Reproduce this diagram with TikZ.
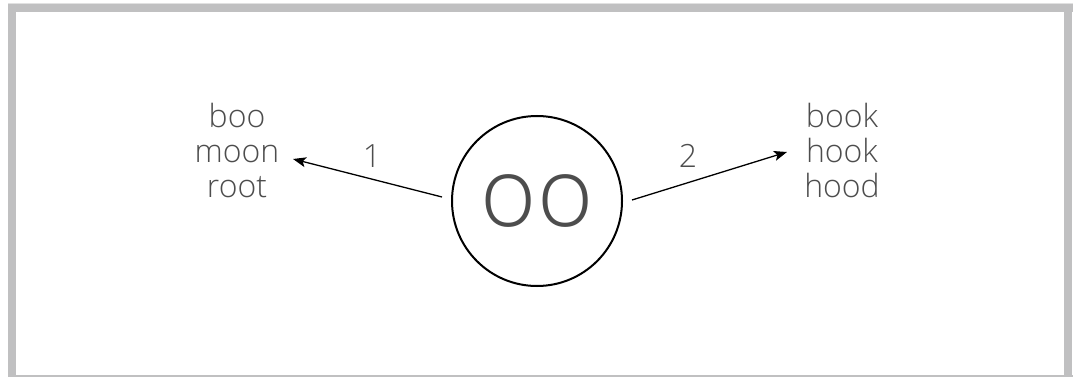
\documentclass[tikz,border=0pt]{standalone}
\usepackage{fontspec}
\setmainfont{Open Sans}[UprightFont=* Light]
\usetikzlibrary{arrows.meta}
\definecolor{framegray}{RGB}{192,192,193}
\definecolor{lightgray}{RGB}{225,225,225}
\definecolor{txt}{RGB}{77,77,77}
\begin{document}
\begin{tikzpicture}[x=1pt,y=-1pt,
  words/.style={text=txt,align=center,inner sep=0pt,font=\fontsize{32}{35}\selectfont},
  lbl/.style={text=txt,inner sep=0pt,font=\fontsize{32}{35}\selectfont},
  arr/.style={draw=black,line width=1.3pt,-{Stealth[length=13pt,width=10pt,inset=3pt]}},
  ring/.style={circle,draw=black,line width=2pt,minimum size=170pt,inner sep=0pt,text=txt,font=\fontsize{96}{100}\selectfont}]
\useasboundingbox (0,0) rectangle (1073,377);
\fill[white] (0,0) rectangle (1073,377);
% frame
\fill[lightgray] (8,3) rectangle (1073,4.5);
\fill[framegray] (8,4) rectangle (1073,12);
\fill[framegray] (8,4) rectangle (16,376);
\fill[framegray] (1064,4) rectangle (1072,376);
\fill[framegray] (8,375.3) rectangle (1073,377);
% nodes
\node[ring] (c) at (537,201) {oo};
\node[words] (left) at (237,150) {boo\\moon\\root};
\node[words] (right) at (842,150) {book\\hook\\hood};
\coordinate (s1) at (442,197);
\coordinate (e1) at (293,159);
\coordinate (s2) at (632,200);
\coordinate (e2) at (787,152);
\draw[arr] (s1) -- (e1);
\draw[arr] (s2) -- (e2);
\node[lbl] (l1) at (372,156) {1};
\node[lbl] (l2) at (688,156) {2};
\end{tikzpicture}
\end{document}
